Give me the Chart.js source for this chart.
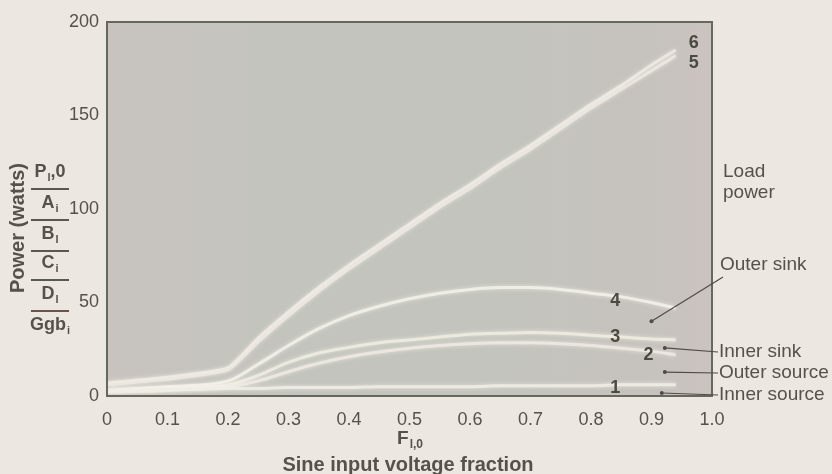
<!DOCTYPE html>
<html>

<head>
    <meta charset="UTF-8">
    <title>Power vs sine input voltage fraction</title>
    <script src="https://cdn.jsdelivr.net/npm/chart.js@4.4.1/dist/chart.umd.min.js"></script>
    <style>
        html, body { margin: 0; padding: 0; background: #ece7e1; }
        #wrap { width: 832px; height: 474px; }
    </style>
</head>

<body>
    <div id="wrap"><canvas id="power-chart" width="832" height="474"></canvas></div>

<script>
    // sine input voltage fraction F(l,0)
    var fraction = [0, 0.1, 0.2, 0.25, 0.3, 0.35, 0.4, 0.45, 0.5, 0.55, 0.6, 0.65, 0.7, 0.75, 0.8, 0.85, 0.9, 0.94];

    // power in watts, one array per curve
    var curve1 = [3, 3.5, 4, 4, 4.5, 4.5, 4.5, 5, 5, 5, 5, 5.5, 5.5, 5.5, 5.5, 6, 6, 6];
    var curve2 = [2, 3, 5, 8, 13, 17.5, 21, 23.5, 25.5, 27, 28, 28.5, 28.5, 28, 27, 25.5, 24, 22];
    var curve3 = [3, 4, 6, 11, 18, 23, 26, 28.5, 30, 31.5, 33, 33.5, 34, 33.5, 32.5, 31.5, 30.5, 30];
    var curve4 = [3, 5, 8, 17, 27, 36, 43, 48, 52, 55, 57, 58, 58, 57, 55, 53, 50, 47];
    var curve5 = [6, 9, 14, 29, 43, 56, 68, 79, 90, 101, 111, 122, 132, 143, 154, 164, 174, 182];
    var curve6 = [7, 10, 15, 31, 45, 58, 70, 81, 92, 103, 113, 124, 134, 145, 156, 166, 177, 185];

    var xTicks = [0, 0.1, 0.2, 0.3, 0.4, 0.5, 0.6, 0.7, 0.8, 0.9, 1.0];
    var yTicks = [0, 50, 100, 150, 200];

    var curveNames = ['1', '2', '3', '4', '5', '6'];
    // where each curve number sits: [fraction, watts]
    var curveTags = [[0.84, 4.3], [0.895, 22], [0.84, 31.5], [0.84, 51], [0.97, 178], [0.97, 189]];

    var calloutNames = ['Outer sink', 'Inner sink', 'Outer source', 'Inner source'];
    var calloutDots = [[0.90, 40], [0.922, 25.7], [0.922, 12.8], [0.917, 1.6]];

    var legendRows = [['P', 'l', ',0'], ['A', 'i', ''], ['B', 'l', ''], ['C', 'i', ''], ['D', 'l', ''], ['Ggb', 'i', '']];

    var FONT = '"Liberation Sans", Arial, Helvetica, sans-serif';
    var TEXT = '#57514b';

    function points(ys) {
        return fraction.map(function (x, i) { return { x: x, y: ys[i] }; });
    }

    function curve(ys, color, smooth) {
        var d = {
            data: points(ys),
            borderColor: color,
            borderWidth: 3,
            pointRadius: 0,
            fill: false
        };
        if (smooth) d.cubicInterpolationMode = 'monotone';
        else d.tension = 0.15;
        return d;
    }

    // text with a subscript, left-aligned at x, vertically centred on y
    function subText(ctx, main, sub, tail, x, y, size, bold) {
        var w = bold ? 'bold ' : '';
        ctx.textAlign = 'left';
        ctx.textBaseline = 'middle';
        ctx.font = w + size + 'px ' + FONT;
        ctx.fillText(main, x, y);
        x += ctx.measureText(main).width;
        ctx.font = w + Math.round(size * 0.62) + 'px ' + FONT;
        ctx.fillText(sub, x + 1, y + size * 0.32);
        x += ctx.measureText(sub).width + 1;
        ctx.font = w + size + 'px ' + FONT;
        if (tail) ctx.fillText(tail, x, y);
    }

    function subWidth(ctx, main, sub, tail, size, bold) {
        var w = bold ? 'bold ' : '';
        ctx.font = w + size + 'px ' + FONT;
        var t = ctx.measureText(main).width + ctx.measureText(tail).width;
        ctx.font = w + Math.round(size * 0.62) + 'px ' + FONT;
        return t + ctx.measureText(sub).width + 1;
    }

    var decor = {
        id: 'decor',
        beforeDraw: function (chart) {
            var ctx = chart.ctx, a = chart.chartArea;
            ctx.save();
            ctx.fillStyle = '#ece7e1';
            ctx.fillRect(0, 0, chart.width, chart.height);
            var g = ctx.createLinearGradient(a.left, 0, a.right, 0);
            g.addColorStop(0, '#c8c3bf');
            g.addColorStop(0.35, '#c2c4bd');
            g.addColorStop(0.65, '#c3c4bd');
            g.addColorStop(0.9, '#c6c2be');
            g.addColorStop(1, '#cbc3c0');
            ctx.fillStyle = g;
            ctx.fillRect(a.left, a.top, a.right - a.left, a.bottom - a.top);
            ctx.restore();
        },
        beforeDatasetsDraw: function (chart) {
            chart.ctx.save();
            chart.ctx.shadowColor = 'rgba(250,248,240,0.7)';
            chart.ctx.shadowBlur = 4;
        },
        afterDatasetsDraw: function (chart) {
            chart.ctx.restore();
        },
        afterDraw: function (chart) {
            var ctx = chart.ctx, a = chart.chartArea;
            var xs = chart.scales.x, ys = chart.scales.y;
            ctx.save();

            // frame
            ctx.strokeStyle = '#65685c';
            ctx.lineWidth = 2;
            ctx.strokeRect(a.left, a.top, a.right - a.left, a.bottom - a.top);

            // curve numbers
            ctx.fillStyle = '#4a4a40';
            ctx.font = 'bold 18px ' + FONT;
            ctx.textAlign = 'center';
            ctx.textBaseline = 'middle';
            curveTags.forEach(function (p, i) {
                ctx.fillText(curveNames[i], xs.getPixelForValue(p[0]), ys.getPixelForValue(p[1]));
            });

            // right-hand callouts
            ctx.fillStyle = TEXT;
            ctx.strokeStyle = '#4f4b46';
            ctx.lineWidth = 1.2;
            ctx.font = '19px ' + FONT;
            ctx.textAlign = 'left';
            ctx.fillText('Load', a.right + 11, 172);
            ctx.fillText('power', a.right + 11, 193);
            var textY = [265, 352, 373, 395];
            calloutNames.forEach(function (name, i) {
                var dx = xs.getPixelForValue(calloutDots[i][0]);
                var dy = ys.getPixelForValue(calloutDots[i][1]);
                var ex = i === 0 ? a.right + 11 : a.right + 6;
                var ey = i === 0 ? textY[0] + 12 : textY[i];
                ctx.beginPath();
                ctx.moveTo(dx, dy);
                ctx.lineTo(ex, ey);
                ctx.stroke();
                ctx.beginPath();
                ctx.arc(dx, dy, 2, 0, Math.PI * 2);
                ctx.fillStyle = '#4f4b46';
                ctx.fill();
                ctx.fillStyle = TEXT;
                ctx.fillText(name, i === 0 ? a.right + 8 : a.right + 7, textY[i]);
            });

            // x axis titles
            ctx.fillStyle = TEXT;
            var fw = subWidth(ctx, 'F', 'l,0', '', 19, true);
            subText(ctx, 'F', 'l,0', '', 410 - fw / 2, 439, 19, true);
            ctx.font = 'bold 20px ' + FONT;
            ctx.textAlign = 'center';
            ctx.fillText('Sine input voltage fraction', 408, 465);

            // y axis title
            ctx.save();
            ctx.translate(18, 228);
            ctx.rotate(-Math.PI / 2);
            ctx.font = 'bold 20px ' + FONT;
            ctx.textAlign = 'center';
            ctx.textBaseline = 'middle';
            ctx.fillText('Power (watts)', 0, 0);
            ctx.restore();

            // stacked term labels with rules between them
            var rowY = [172, 203, 234, 263, 294, 325];
            legendRows.forEach(function (r, i) {
                var w = subWidth(ctx, r[0], r[1], r[2], 18, true);
                ctx.fillStyle = TEXT;
                subText(ctx, r[0], r[1], r[2], 50 - w / 2, rowY[i], 18, true);
                if (i < legendRows.length - 1) {
                    ctx.strokeStyle = i === 4 ? '#6a5648' : '#56594c';
                    ctx.lineWidth = 2;
                    ctx.beginPath();
                    ctx.moveTo(31, rowY[i] + 17);
                    ctx.lineTo(69, rowY[i] + 17);
                    ctx.stroke();
                }
            });

            ctx.restore();
        }
    };

    var chart = new Chart(document.getElementById('power-chart'), {
        type: 'line',
        data: {
            datasets: [
                curve(curve1, 'rgba(238,237,228,0.9)', true),
                curve(curve2, 'rgba(240,232,226,0.9)', true),
                curve(curve3, 'rgba(238,236,224,0.9)', true),
                curve(curve4, 'rgba(240,240,232,0.92)', true),
                curve(curve5, 'rgba(236,232,224,0.9)', false),
                curve(curve6, 'rgba(240,234,228,0.85)', false)
            ]
        },
        options: {
            responsive: false,
            animation: false,
            layout: { padding: { top: 22, right: 120, left: 0, bottom: 0 } },
            plugins: {
                legend: { display: false },
                tooltip: { enabled: false }
            },
            scales: {
                x: {
                    type: 'linear',
                    min: 0,
                    max: 1,
                    afterBuildTicks: function (s) { s.ticks = xTicks.map(function (v) { return { value: v }; }); },
                    afterFit: function (s) { s.height = 78; },
                    grid: { display: false, drawTicks: false },
                    border: { display: false },
                    ticks: {
                        padding: 13,
                        color: TEXT,
                        font: { family: FONT, size: 18 },
                        maxRotation: 0,
                        callback: function (v) { return v === 0 ? '0' : v.toFixed(1); }
                    }
                },
                y: {
                    min: 0,
                    max: 200,
                    afterBuildTicks: function (s) { s.ticks = yTicks.map(function (v) { return { value: v }; }); },
                    afterFit: function (s) { s.width = 107; },
                    grid: { display: false, drawTicks: false },
                    border: { display: false },
                    ticks: {
                        padding: 8,
                        color: TEXT,
                        font: { family: FONT, size: 18 }
                    }
                }
            }
        },
        plugins: [decor]
    });
</script>
</body>

</html>
